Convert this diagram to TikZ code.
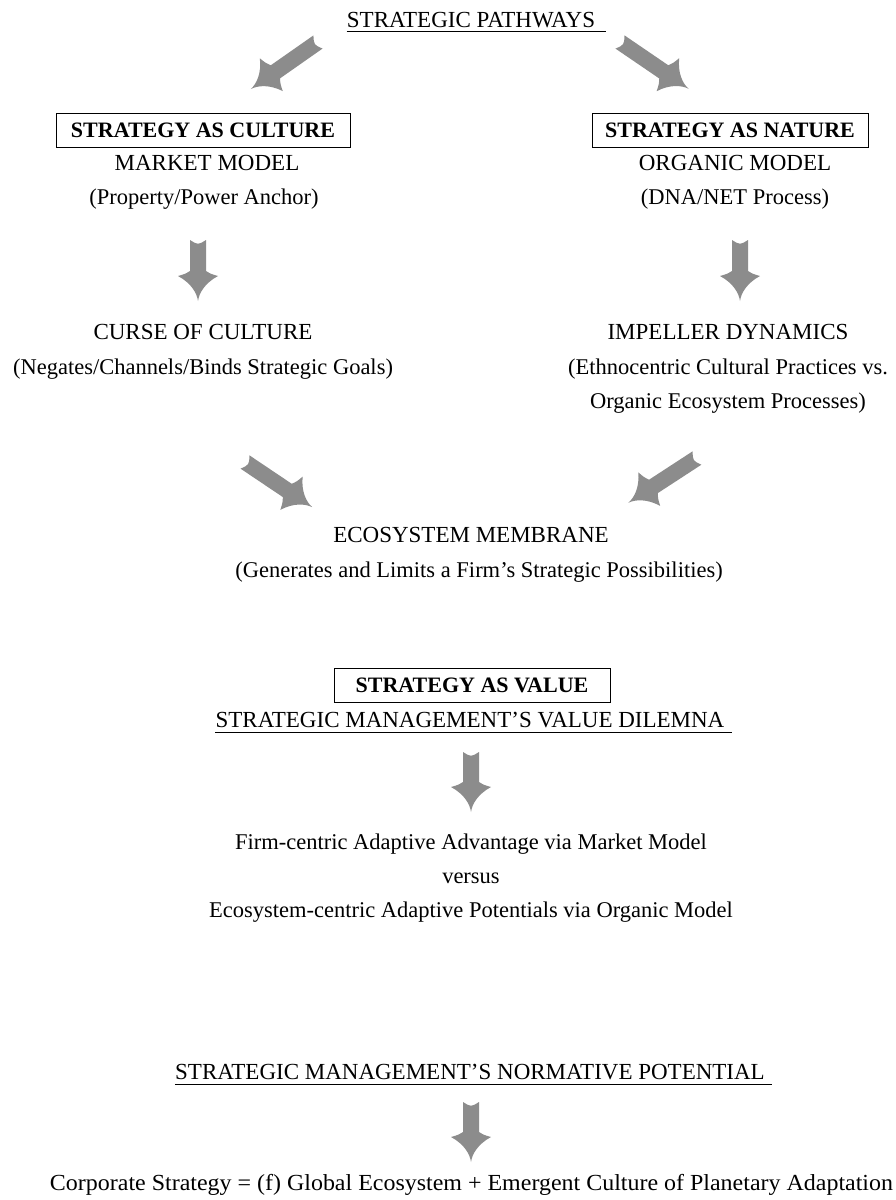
\documentclass[tikz,border=0pt]{standalone}
\usepackage{fontspec}
\setmainfont{Liberation Serif}
\definecolor{arrowgray}{RGB}{140,140,140}
\tikzset{
  txt/.style={font=\fontsize{22.5}{26}\selectfont, inner sep=0pt, anchor=base},
  captxt/.style={font=\fontsize{23}{26}\selectfont, inner sep=0pt, anchor=base},
  boxed/.style={draw, line width=0.9pt, font=\fontsize{22}{26}\selectfont\bfseries, minimum height=34pt, inner sep=0pt},
  uline/.style={line width=0.8pt},
  farrow/.pic={
    \fill[arrowgray] (0,8) .. controls (5,0) .. (0,-8)
      -- ({#1-30},-8) .. controls ({#1-27},-13) .. ({#1-25},-20)
      .. controls ({#1-18},-7) and ({#1-8},-1) .. (#1,0)
      .. controls ({#1-8},1) and ({#1-18},7) .. ({#1-25},20)
      .. controls ({#1-27},13) .. ({#1-30},8) -- cycle;
  }
}
\begin{document}
\begin{tikzpicture}[x=1pt,y=-1pt]
\useasboundingbox[fill=white] (0,0) rectangle (895,1200);

% title
\node[captxt] (sp) at (471,27) {STRATEGIC PATHWAYS};
\draw[uline] ([yshift=-4pt]sp.base west) -- ([xshift=11pt,yshift=-4pt]sp.base east);
\pic[rotate=215] at (318,42) {farrow=82};
\pic[rotate=-34.3] at (620,42) {farrow=83};

% left column
\node[boxed, minimum width=294pt] (cult) at (203,130) {STRATEGY AS CULTURE};
\node[captxt] (mm) at (207,170) {MARKET MODEL};
\node[txt] (ppa) at (204,204) {(Property/Power Anchor)};
\pic[rotate=-90] at (198,240) {farrow=61};
\node[captxt] (coc) at (203,339) {CURSE OF CULTURE};
\node[txt] (neg) at (203,374) {(Negates/Channels/Binds Strategic Goals)};

% right column
\node[boxed, minimum width=276pt] (nat) at (730,130) {STRATEGY AS NATURE};
\node[captxt] (om) at (735,170) {ORGANIC MODEL};
\node[txt] (dna) at (735,204) {(DNA/NET Process)};
\pic[rotate=-90] at (740,240) {farrow=61};
\node[captxt] (imp) at (728,339) {IMPELLER DYNAMICS};
\node[txt] (eth) at (728,374) {(Ethnocentric Cultural Practices vs.};
\node[txt] (oep) at (728,408) {Organic Ecosystem Processes)};

% membrane
\pic[rotate=-33.9] at (245,462) {farrow=81};
\pic[rotate=213.1] at (697,458) {farrow=82};
\node[captxt] (em) at (471,542) {ECOSYSTEM MEMBRANE};
\node[txt] (gen) at (479,577) {(Generates and Limits a Firm’s Strategic Possibilities)};

% value
\node[boxed, minimum width=276pt] (val) at (472,685) {STRATEGY AS VALUE};
\node[captxt] (vd) at (470,727) {STRATEGIC MANAGEMENT’S VALUE DILEMNA};
\draw[uline] ([yshift=-5pt]vd.base west) -- ([xshift=7pt,yshift=-5pt]vd.base east);
\pic[rotate=-90] at (471,752) {farrow=60};
\node[txt] (fc) at (471,849) {Firm-centric Adaptive Advantage via Market Model};
\node[txt] (vs) at (471,883) {versus};
\node[txt] (ec) at (471,917) {Ecosystem-centric Adaptive Potentials via Organic Model};

% normative
\node[captxt] (np) at (470,1079) {STRATEGIC MANAGEMENT’S NORMATIVE POTENTIAL};
\draw[uline] ([yshift=-5pt]np.base west) -- ([xshift=7pt,yshift=-5pt]np.base east);
\pic[rotate=-90] at (471,1102) {farrow=60};
\node[txt] (cs) at (471.5,1190) {\resizebox{843pt}{\height}{\fontsize{23}{27}\selectfont Corporate Strategy = (f) Global Ecosystem + Emergent Culture of Planetary Adaptation}};
\end{tikzpicture}
\end{document}
